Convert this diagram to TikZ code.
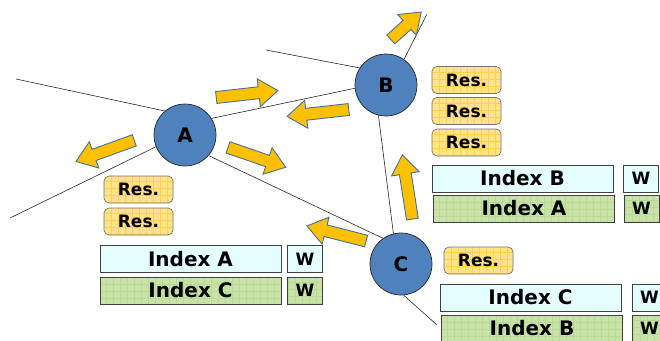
\documentclass[tikz,border=0pt]{standalone}
\usepackage{fontspec}
\setmainfont{DejaVu Sans}
\usepackage{tikz}
\usetikzlibrary{shapes.arrows}
\definecolor{nodeblue}{HTML}{4F81BD}
\definecolor{arrowfill}{HTML}{FFC000}
\definecolor{arrowline}{HTML}{41719C}
\definecolor{resfill}{HTML}{FFE28C}
\definecolor{resgrid}{HTML}{FFD04A}
\definecolor{cyanfill}{HTML}{E4FDFF}
\definecolor{greenfill}{HTML}{C8E2A8}
\definecolor{greengrid}{HTML}{B8DA94}
\tikzstyle{peer} = [circle, draw=black!85, line width=0.7pt, fill=nodeblue,
    minimum size=62pt, inner sep=0pt, font=\fontsize{20}{20}\bfseries]
\tikzstyle{flow} = [single arrow, draw=arrowline, line width=0.9pt, fill=arrowfill,
    inner sep=5.5pt, single arrow head extend=8pt, single arrow tip angle=72]
\tikzstyle{gridded} = [path picture={\draw[#1, line width=0.5pt]
    (path picture bounding box.south west) grid[step=7pt]
    (path picture bounding box.north east);}]
\tikzstyle{res} = [draw=black!55, line width=0.7pt, fill=resfill, gridded=resgrid,
    rounded corners=5pt, minimum width=69pt, minimum height=27pt, inner sep=0pt,
    font=\fontsize{17}{17}\bfseries]
\tikzstyle{idx} = [draw=black!75, line width=0.7pt, minimum width=181pt,
    minimum height=27pt, inner sep=0pt, font=\fontsize{20}{20}\bfseries]
\tikzstyle{wbox} = [draw=black!75, line width=0.7pt, minimum width=35pt,
    minimum height=27pt, inner sep=0pt, font=\fontsize{17}{17}\bfseries]
\tikzstyle{cyanbox} = [fill=cyanfill]
\tikzstyle{greenbox} = [fill=greenfill, gridded=greengrid]

\begin{document}
\begin{tikzpicture}[x=1pt, y=-1pt]
\useasboundingbox (0,0) rectangle (660,340);
\clip (0,0) rectangle (660,340);
    %peers
    \node[peer] (A) at (185,135) {A};
    \node[peer] (B) at (386,85) {B};
    \node[peer] (C) at (401,264) {C};
    %links
    \coordinate (farAul) at (16,79);
    \coordinate (farAll) at (10,218);
    \coordinate (farBl) at (266,50);
    \coordinate (farBur) at (427,14);
    \coordinate (farClr) at (437,325);
    \begin{scope}[black!85, line width=0.6pt]
    \draw (farAul) -- (A.130);
    \draw (farAll) -- (A.202);
    \draw (A.32) -- (B.186);
    \draw (A.319) -- (C.125);
    \draw (farBl) -- (B.147);
    \draw (farBur) -- (B.55);
    \draw (B.256) -- (C.104);
    \draw (farClr) -- (C.275);
    \end{scope}
    %messages
    \node[flow, minimum height=62pt, rotate=6.4] (mAB) at (243,94.5) {};
    \node[flow, minimum height=62pt, rotate=186.4] (mBA) at (322,112.5) {};
    \node[flow, minimum height=62pt, rotate=199.9] (mAll) at (109,149.5) {};
    \node[flow, minimum height=61pt, rotate=-19] (mAlr) at (253,156) {};
    \node[flow, minimum height=41pt, rotate=42] (mBur) at (403,28.5) {};
    \node[flow, minimum height=65pt, rotate=98.9] (mCB) at (408,191) {};
    \node[flow, minimum height=61pt, rotate=165.7] (mCl) at (340.5,234.5) {};
    %results
    \node[res] (resA1) at (138.5,189.5) {Res.};
    \node[res] (resA2) at (138.5,221.5) {Res.};
    \node[res] (resB1) at (466.5,80) {Res.};
    \node[res] (resB2) at (466.5,111) {Res.};
    \node[res] (resB3) at (466.5,142.5) {Res.};
    \node[res] (resC) at (478.5,260.5) {Res.};
    %indexes
    \node[idx, cyanbox] (idxAA) at (190.5,259) {Index A};
    \node[wbox, cyanbox] (wAA) at (305,259) {W};
    \node[idx, greenbox] (idxAC) at (190.5,290.5) {Index C};
    \node[wbox, greenbox] (wAC) at (305,290.5) {W};
    \node[idx, cyanbox] (idxBB) at (522.5,178.5) {Index B};
    \node[wbox, cyanbox] (wBB) at (641,178.5) {W};
    \node[idx, greenbox] (idxBA) at (524,208.5) {Index A};
    \node[wbox, greenbox] (wBA) at (641.5,208.5) {W};
    \node[idx, cyanbox] (idxCC) at (530.5,297.5) {Index C};
    \node[wbox, cyanbox] (wCC) at (649.5,297.5) {W};
    \node[idx, greenbox] (idxCB) at (532,328.5) {Index B};
    \node[wbox, greenbox] (wCB) at (649.5,328.5) {W};
\end{tikzpicture}
\end{document}
